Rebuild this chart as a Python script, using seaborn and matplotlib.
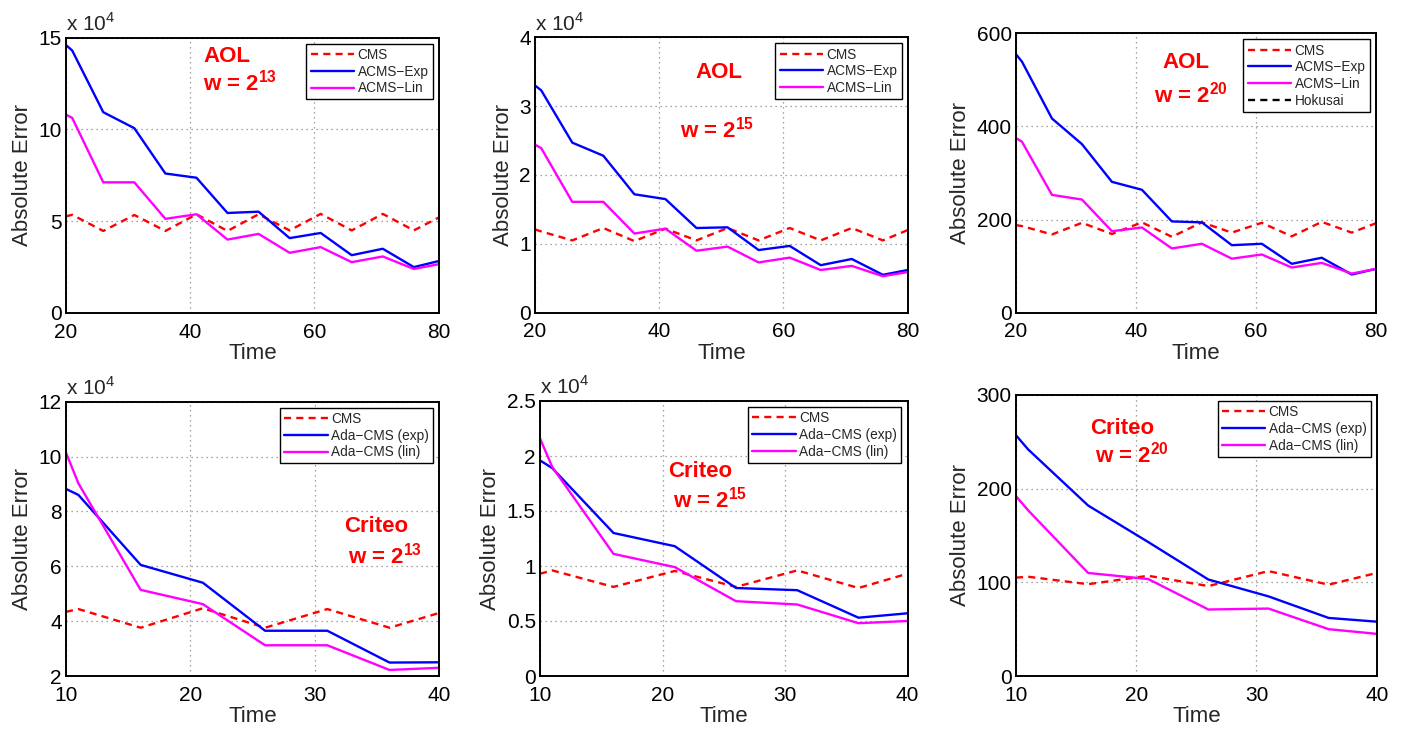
import numpy as np
import pandas as pd
import seaborn as sns
import matplotlib
matplotlib.use("Agg")
import matplotlib.pyplot as plt
from matplotlib.lines import Line2D

# ---------------- data ----------------
time_aol = [20, 21, 26, 31, 36, 41, 46, 51, 56, 61, 66, 71, 76, 80]
time_criteo = [10, 11, 16, 21, 26, 31, 36, 40]

# AOL, w = 2^13 (values in units of 10^4)
aol13_cms = [5.27, 5.35, 4.47, 5.34, 4.47, 5.38, 4.47, 5.38, 4.50, 5.40, 4.50, 5.40, 4.50, 5.20]
aol13_exp = [14.6, 14.3, 10.94, 10.07, 7.6, 7.37, 5.45, 5.52, 4.08, 4.36, 3.15, 3.5, 2.5, 2.83]
aol13_lin = [10.8, 10.63, 7.12, 7.12, 5.13, 5.38, 4.0, 4.31, 3.28, 3.59, 2.77, 3.08, 2.4, 2.66]

# AOL, w = 2^15 (values in units of 10^4)
aol15_cms = [1.21, 1.18, 1.05, 1.23, 1.04, 1.22, 1.05, 1.23, 1.05, 1.23, 1.05, 1.23, 1.05, 1.20]
aol15_exp = [3.30, 3.23, 2.47, 2.28, 1.72, 1.65, 1.23, 1.24, 0.91, 0.97, 0.69, 0.78, 0.55, 0.62]
aol15_lin = [2.44, 2.39, 1.61, 1.61, 1.15, 1.22, 0.90, 0.96, 0.73, 0.80, 0.62, 0.68, 0.53, 0.59]

# AOL, w = 2^20
aol20_cms = [188, 186, 168, 193, 169, 194, 163, 194, 172, 193, 164, 195, 172, 192]
aol20_exp = [555, 539, 417, 362, 281, 264, 196, 194, 145, 148, 105, 118, 82, 94]
aol20_lin = [375, 367, 253, 243, 175, 183, 138, 148, 116, 125, 97, 107, 84, 94]

# Criteo, w = 2^13 (values in units of 10^4)
cri13_cms = [4.34, 4.44, 3.76, 4.47, 3.76, 4.44, 3.76, 4.30]
cri13_exp = [8.82, 8.60, 6.05, 5.40, 3.65, 3.65, 2.49, 2.50]
cri13_lin = [10.14, 9.02, 5.14, 4.62, 3.12, 3.12, 2.22, 2.30]

# Criteo, w = 2^15 (values in units of 10^4)
cri15_cms = [0.93, 0.96, 0.81, 0.955, 0.81, 0.96, 0.80, 0.93]
cri15_exp = [1.96, 1.89, 1.30, 1.18, 0.80, 0.78, 0.53, 0.57]
cri15_lin = [2.16, 1.90, 1.11, 0.99, 0.68, 0.65, 0.48, 0.50]

# Criteo, w = 2^20
cri20_cms = [105, 106, 98, 107, 96, 112, 97.5, 110]
cri20_exp = [257, 242, 182, 143, 103, 85, 62, 58]
cri20_lin = [192, 177, 110, 103.5, 71, 72, 50, 45]

aol_labels = ["CMS", "ACMS\u2212Exp", "ACMS\u2212Lin"]
criteo_labels = ["CMS", "Ada\u2212CMS (exp)", "Ada\u2212CMS (lin)"]

# ---------------- style ----------------
sns.set_style("white")
plt.rcParams["font.family"] = ["Liberation Sans", "DejaVu Sans"]
plt.rcParams["mathtext.fontset"] = "custom"
plt.rcParams["mathtext.rm"] = "Liberation Sans"
plt.rcParams["mathtext.bf"] = "Liberation Sans:bold"

fig = plt.figure(figsize=(14.05, 7.31), dpi=100)
W, H = 1405.0, 731.0

def axes_px(l, r, t, b):
    return fig.add_axes([l / W, 1 - b / H, (r - l) / W, (b - t) / H])

panels = [
    dict(box=(66, 438.7, 37.7, 313), t=time_aol, ys=(aol13_cms, aol13_exp, aol13_lin), labels=aol_labels,
         xlim=(20, 80), xt=[20, 40, 60, 80], ylim=(0, 15), yt=[0, 5, 10, 15], exp=True,
         name="AOL", w="13", name_xy=(226.7, 56), w_xy=(240, 83), hok=False),
    dict(box=(535, 907.7, 37.3, 312.7), t=time_aol, ys=(aol15_cms, aol15_exp, aol15_lin), labels=aol_labels,
         xlim=(20, 80), xt=[20, 40, 60, 80], ylim=(0, 4), yt=[0, 1, 2, 3, 4], exp=True,
         name="AOL", w="15", name_xy=(719, 73), w_xy=(717, 130), hok=False),
    dict(box=(1016, 1375.7, 33.3, 312.7), t=time_aol, ys=(aol20_cms, aol20_exp, aol20_lin), labels=aol_labels,
         xlim=(20, 80), xt=[20, 40, 60, 80], ylim=(0, 600), yt=[0, 200, 400, 600], exp=False,
         name="AOL", w="20", name_xy=(1185.7, 62.7), w_xy=(1190.7, 95), hok=True),
    dict(box=(66, 439.3, 401.7, 676), t=time_criteo, ys=(cri13_cms, cri13_exp, cri13_lin), labels=criteo_labels,
         xlim=(10, 40), xt=[10, 20, 30, 40], ylim=(2, 12), yt=[2, 4, 6, 8, 10, 12], exp=True,
         name="Criteo", w="13", name_xy=(376, 527), w_xy=(385, 556), hok=False),
    dict(box=(540, 907.5, 401, 676), t=time_criteo, ys=(cri15_cms, cri15_exp, cri15_lin), labels=criteo_labels,
         xlim=(10, 40), xt=[10, 20, 30, 40], ylim=(0, 2.5), yt=[0, 0.5, 1, 1.5, 2, 2.5], exp=True,
         name="Criteo", w="15", name_xy=(700, 471.7), w_xy=(710, 500), hok=False),
    dict(box=(1016, 1376.7, 395, 676), t=time_criteo, ys=(cri20_cms, cri20_exp, cri20_lin), labels=criteo_labels,
         xlim=(10, 40), xt=[10, 20, 30, 40], ylim=(0, 300), yt=[0, 100, 200, 300], exp=False,
         name="Criteo", w="20", name_xy=(1122, 429), w_xy=(1131.7, 455), hok=False),
]

colors = ["#ff0000", "#0000ff", "#ff00ff"]
styles = ["--", "-", "-"]

for p in panels:
    l, r, t, b = p["box"]
    ax = axes_px(l, r, t, b)
    for y, c, ls, lab in zip(p["ys"], colors, styles, p["labels"]):
        df = pd.DataFrame({"Time": p["t"], "err": y})
        sns.lineplot(data=df, x="Time", y="err", ax=ax, color=c, linewidth=1.7,
                     label=lab, estimator=None, sort=False)
        if ls == "--":
            ax.lines[-1].set_dashes([4, 2.6])
    handles, labels = ax.get_legend_handles_labels()
    for h in handles:
        if h.get_color() == colors[0]:
            h.set_dashes([3, 2.2])
    if p["hok"]:
        hh = Line2D([], [], color="black", linewidth=1.7, dashes=[3, 2.2])
        handles.append(hh)
        labels.append("Hokusai")
    leg = ax.legend(handles, labels, loc="upper right", fontsize=9.8, frameon=True, fancybox=False,
                    framealpha=1, edgecolor="black", borderpad=0.3, labelspacing=0.2,
                    handlelength=3.2, handletextpad=0.25, borderaxespad=0.45)
    leg.get_frame().set_linewidth(1.0)

    ax.set_xlim(*p["xlim"])
    ax.set_ylim(*p["ylim"])
    ax.set_xticks(p["xt"])
    ax.set_yticks(p["yt"])
    ax.set_yticklabels([("%g" % v) for v in p["yt"]])
    ax.tick_params(axis="both", which="major", labelsize=15, direction="in", length=4,
                   width=1, colors="black")
    ax.tick_params(axis="y", pad=3)
    ax.tick_params(axis="x", pad=7)
    ax.grid(True, color="#888888", linestyle=(0, (1, 3)), linewidth=0.9)
    for s in ax.spines.values():
        s.set_color("black")
        s.set_linewidth(1.4)
    ax.set_xlabel("Time", fontsize=16, labelpad=1)
    ax.set_ylabel("Absolute Error", fontsize=16, labelpad=4)
    if p["exp"]:
        ax.text(0.0, 1.01, r"x 10$^{4}$", transform=ax.transAxes, fontsize=15,
                ha="left", va="bottom")
    nx, ny = p["name_xy"]
    fig.text(nx / W, 1 - ny / H, p["name"], color="red", fontsize=16, fontweight="bold",
             ha="center", va="center")
    wx, wy = p["w_xy"]
    fig.text(wx / W, 1 - wy / H, r"w = 2$^{\mathbf{%s}}$" % p["w"], color="red", fontsize=16,
             fontweight="bold", ha="center", va="center")

fig.savefig("out.png", dpi=100)
